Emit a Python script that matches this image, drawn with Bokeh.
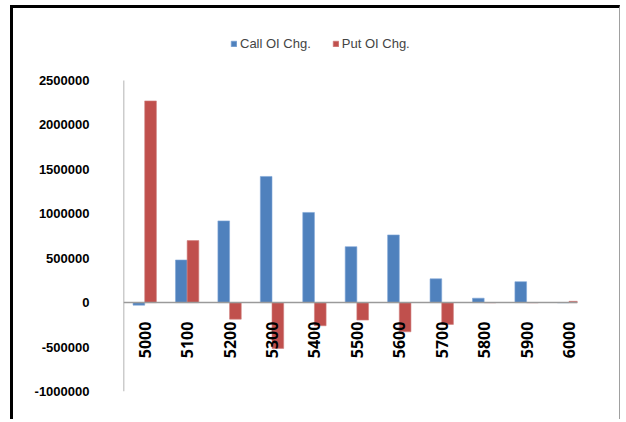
import math
from bokeh.plotting import figure
from bokeh.models import (ColumnDataSource, FixedTicker, NumeralTickFormatter,
                          LinearAxis, Legend, LegendItem, Range1d)
from bokeh.embed import file_html
from bokeh.resources import INLINE

# Strike prices and change in open interest
strikes = [5000, 5100, 5200, 5300, 5400, 5500, 5600, 5700, 5800, 5900, 6000]
call_oi_chg = [-28000, 480000, 920000, 1420000, 1015000, 630000,
               762000, 268000, 50000, 236000, 0]
put_oi_chg = [2270000, 698000, -186000, -515000, -260000, -196000,
              -328000, -245000, 0, 0, 15000]
y_ticks = [-1000000, -500000, 0, 500000, 1000000, 1500000, 2000000, 2500000]

BLUE = "#4F81BD"
RED = "#C0504D"
bar_w = 27.5  # in strike units (100 per strike step)

# value scale: the axis runs -1M..2.5M over 311 px; the frame also holds
# the legend strip above the axis top
Y_MIN, Y_MAX = y_ticks[0], y_ticks[-1]
AXIS_PX = 311
FRAME_PX = 363
y_top = Y_MIN + (Y_MAX - Y_MIN) * FRAME_PX / AXIS_PX
X_START = 4950

src = ColumnDataSource(data=dict(
    x_call=[s - bar_w / 2 for s in strikes],
    x_put=[s + bar_w / 2 for s in strikes],
    call=call_oi_chg,
    put=put_oi_chg,
))

p = figure(width=610, height=414, output_backend="svg", toolbar_location=None,
           x_range=Range1d(X_START, 6020), y_range=Range1d(Y_MIN, y_top),
           x_axis_type=None, y_axis_type=None,
           min_border_left=110, min_border_right=46,
           min_border_top=20, min_border_bottom=31,
           styles={"margin-left": "10px", "margin-top": "5px",
                   "border-left": "3px solid black",
                   "border-top": "3px solid black",
                   "border-right": "1px solid #A0A0A0"})
p.outline_line_color = None
p.grid.visible = False

r_call = p.vbar(x="x_call", top="call", bottom=0, width=bar_w, source=src,
                fill_color=BLUE, line_color="#7FA6D6", line_width=0.6)
r_put = p.vbar(x="x_put", top="put", bottom=0, width=bar_w, source=src,
               fill_color=RED, line_color="#D07F7D", line_width=0.6)

# value axis on the left; its line only spans the tick range
yaxis = LinearAxis(ticker=FixedTicker(ticks=y_ticks),
                   formatter=NumeralTickFormatter(format="0"))
yaxis.axis_line_color = None
yaxis.major_tick_line_color = None
yaxis.minor_tick_line_color = None
yaxis.major_label_standoff = 28
yaxis.major_label_text_font = "Liberation Sans"
yaxis.major_label_text_font_style = "bold"
yaxis.major_label_text_font_size = "13px"
yaxis.major_label_text_color = "black"
p.add_layout(yaxis, "left")
p.segment(x0=[X_START], y0=[Y_MIN], x1=[X_START], y1=[Y_MAX],
          line_color="#9A9A9A", line_width=1.5)

# strike axis sitting on the zero line
xaxis = LinearAxis(ticker=FixedTicker(ticks=strikes))
xaxis.fixed_location = 0
xaxis.axis_line_color = "#9A9A9A"
xaxis.axis_line_width = 1.5
xaxis.major_tick_line_color = None
xaxis.minor_tick_line_color = None
xaxis.major_label_orientation = math.pi / 2
xaxis.major_label_standoff = 13
xaxis.major_label_text_font = "Open Sans"
xaxis.major_label_text_font_style = "bold"
xaxis.major_label_text_font_size = "16px"
xaxis.major_label_text_color = "black"
p.add_layout(xaxis, "below")

legend = Legend(items=[LegendItem(label="Call OI Chg.", renderers=[r_call]),
                       LegendItem(label="Put OI Chg.", renderers=[r_put])],
                orientation="horizontal", location=(107, 340))
legend.label_text_font = "Liberation Sans"
legend.label_text_font_size = "13px"
legend.glyph_width = 7
legend.glyph_height = 7
legend.spacing = 21
legend.label_standoff = 3
legend.padding = 8
legend.margin = 0
legend.border_line_color = None
legend.background_fill_alpha = 0
p.add_layout(legend)

open("out.html", "w").write(file_html(p, INLINE))
